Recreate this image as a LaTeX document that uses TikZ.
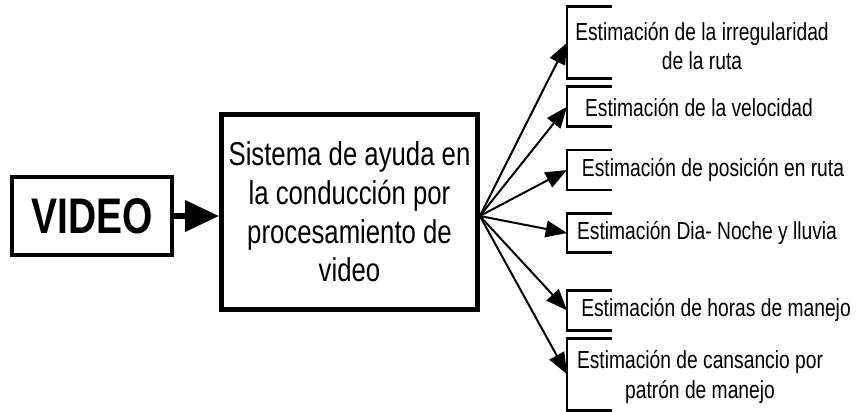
\documentclass[tikz,border=0pt]{standalone}
\usepackage{fontspec}
\setmainfont{Liberation Sans}[FakeStretch=0.78]
\usetikzlibrary{arrows.meta, positioning}
\tikzset{
  every picture/.style={line width=1.5pt},
  box/.style={draw, line width=#1, inner sep=0pt, align=center},
  box/.default=3pt,
  arrow/.style={-{Triangle[length=16pt, width=12.5pt]}, line width=1.5pt},
  brkline/.style={line width=2.2pt},
  lbl/.style={font=\fontsize{18.5pt}{22pt}\selectfont, align=center, inner sep=0pt},
}

\begin{document}
\begin{tikzpicture}[x=0.75pt, y=-0.75pt,
    src/.style={box=3pt, minimum width=120pt, minimum height=58.5pt, font=\fontsize{37.5pt}{40pt}\selectfont\bfseries},
    sys/.style={box=3.5pt, minimum width=192pt, minimum height=146.7pt, font=\fontsize{24.75pt}{29pt}\selectfont},
    brk/.style={minimum width=33.75pt, inner sep=0pt, outer sep=0pt, anchor=north west},
    feed/.style={-{Triangle[length=25.5pt, width=22.5pt]}, line width=5pt},
  ]
  \newcommand{\bracketline}[1]{\draw[brkline] (#1.north east) -- (#1.north west) -- (#1.south west) -- (#1.south east);}
  \useasboundingbox (0,0) rectangle (857,411);

  % input and system
  \node[src] (video) at (92,216) {VIDEO};
  \node[sys] (sys) at (349.5,212) {Sistema de ayuda en\\la conducción por\\procesamiento de\\video};
  \draw[feed] (video.east) -- (video.east -| sys.west);
  \coordinate (hub) at (sys.east |- video.east);

  % outputs
  \node[brk, minimum height=54pt] (irr) at (567,6.7) {};
  \node[lbl] (tirr) at (702,46) {Estimación de la irregularidad\\de la ruta};
  \node[brk, minimum height=30pt] (vel) at (567,86.7) {};
  \node[lbl] (tvel) at (699,108) {Estimación de la velocidad};
  \node[brk, minimum height=30pt] (pos) at (567,150) {};
  \node[lbl] (tpos) at (713,170) {Estimación de posición en ruta};
  \node[brk, minimum height=29.6pt] (dia) at (567,213.3) {};
  \node[lbl] (tdia) at (707,233) {Estimación Dia- Noche y lluvia};
  \node[brk, minimum height=29.5pt] (hor) at (567,290.7) {};
  \node[lbl] (thor) at (716,310) {Estimación de horas de manejo};
  \node[brk, minimum height=53.8pt] (can) at (567,338.3) {};
  \node[lbl] (tcan) at (700,377) {Estimación de cansancio por\\patrón de manejo};
  \bracketline{irr} \bracketline{vel} \bracketline{pos}
  \bracketline{dia} \bracketline{hor} \bracketline{can}

  % fan out
  \draw[arrow] (hub) -- (irr.west);
  \draw[arrow] (hub) -- (vel.west);
  \draw[arrow] (hub) -- (pos.west);
  \draw[arrow] (hub) -- (dia.west);
  \draw[arrow] (hub) -- (hor.west);
  \draw[arrow] (hub) -- (can.west);
\end{tikzpicture}
\end{document}
